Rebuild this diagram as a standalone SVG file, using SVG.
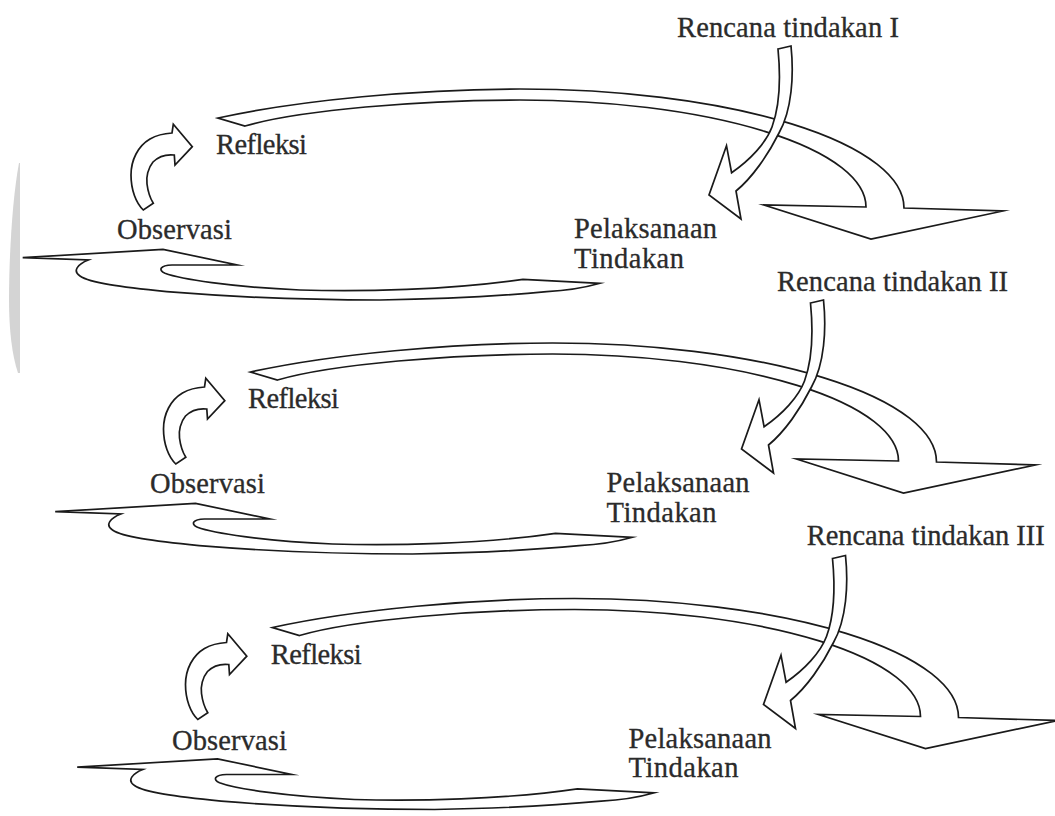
<svg xmlns="http://www.w3.org/2000/svg" xmlns:xlink="http://www.w3.org/1999/xlink" width="1055" height="816" viewBox="0 0 1055 816">
<style>
.shape{fill:#ffffff;stroke:#1a1a1a;stroke-width:1.7;stroke-linejoin:miter;stroke-miterlimit:20}
.lbl{font-family:"Liberation Serif","Times New Roman",serif;font-size:28.5px;fill:#2b2b2b;stroke:#2b2b2b;stroke-width:0.3}
</style>
<defs>
<path id="bottomBand" d="M22.7,257.7 L163,249.3 L237,265 L172,265 C160,265.5 158,270 165,273.3 C180,279 230,287 300,290 C360,292 450,290 523,279.3 L600,283.3 C580,289 560,291 546.7,291.7 C500,296 440,299 380,300 C300,300 220,296 166.7,291.7 C120,287 90,283 80,276 C72,271 78,264 88.3,260 Z"/>
<path id="topBand" d="M218,118 C300,100 420,89 520,89 A384,119 0 0 1 904,208 L1003,211 L871,239 L764,205 L866,207 A346,107 0 0 0 520,100 C420,100 300,110 245,126 Z"/>
<path id="planArrow" d="M778,49 L791,46 C794,75 792,110 779,133 C768,155 752,178 736,191 L741,219 L709,195 L726.5,145.7 L731.6,172.7 C750,160 766,143 772,127 C779,108 781,80 778,49 Z"/>
<path id="obsArrow" d="M143.3,210 C136,203 131,190 131,175 C131,160 138,146 150,139 C157,135 164,133.5 172,133 L173.3,124.3 L192.3,146.7 L175,165 L174.3,155 C165,154 158,157 153,162 C148,168 146,177 147,184 C148,192 150,198 153.3,203.3 Z"/>
</defs>
<rect x="0" y="0" width="1055" height="816" fill="#ffffff"/>
<path d="M19,163 C12,200 9,260 9,300 C9,330 12,355 18,373 L20,373 L20,163 Z" fill="#d4d4d4"/>
<g id="connectors">
<g id="cycle1-arrows">
<use xlink:href="#bottomBand" class="shape"/>
<use xlink:href="#topBand" class="shape"/>
<use xlink:href="#planArrow" class="shape"/>
<use xlink:href="#obsArrow" class="shape"/>
</g>
<g id="cycle2-arrows" transform="translate(32.5,254)">
<use xlink:href="#bottomBand" class="shape"/>
<use xlink:href="#topBand" class="shape"/>
<use xlink:href="#planArrow" class="shape"/>
<use xlink:href="#obsArrow" class="shape"/>
</g>
<g id="cycle3-arrows" transform="translate(54.5,509.5)">
<use xlink:href="#bottomBand" class="shape"/>
<use xlink:href="#topBand" class="shape"/>
<use xlink:href="#planArrow" class="shape"/>
<use xlink:href="#obsArrow" class="shape"/>
</g>
</g>
<g id="rencana1"><text class="lbl" x="677" y="37" textLength="222">Rencana tindakan I</text></g>
<g id="refleksi1"><text class="lbl" x="216" y="154" textLength="91">Refleksi</text></g>
<g id="observasi1"><text class="lbl" x="117" y="239" textLength="115">Observasi</text></g>
<g id="pelaksanaan1"><text class="lbl" x="574" y="238" textLength="143">Pelaksanaan</text><text class="lbl" x="574" y="268" textLength="110">Tindakan</text></g>
<g id="rencana2"><text class="lbl" x="777" y="291" textLength="231">Rencana tindakan II</text></g>
<g id="refleksi2"><text class="lbl" x="248" y="408" textLength="91">Refleksi</text></g>
<g id="observasi2"><text class="lbl" x="150" y="493" textLength="115">Observasi</text></g>
<g id="pelaksanaan2"><text class="lbl" x="606.5" y="492" textLength="143">Pelaksanaan</text><text class="lbl" x="606.5" y="522" textLength="110">Tindakan</text></g>
<g id="rencana3"><text class="lbl" x="806.7" y="545" textLength="238">Rencana tindakan III</text></g>
<g id="refleksi3"><text class="lbl" x="270.7" y="663.5" textLength="91">Refleksi</text></g>
<g id="observasi3"><text class="lbl" x="172" y="749.5" textLength="115">Observasi</text></g>
<g id="pelaksanaan3"><text class="lbl" x="628.5" y="748" textLength="143">Pelaksanaan</text><text class="lbl" x="628.5" y="777" textLength="110">Tindakan</text></g>
</svg>
